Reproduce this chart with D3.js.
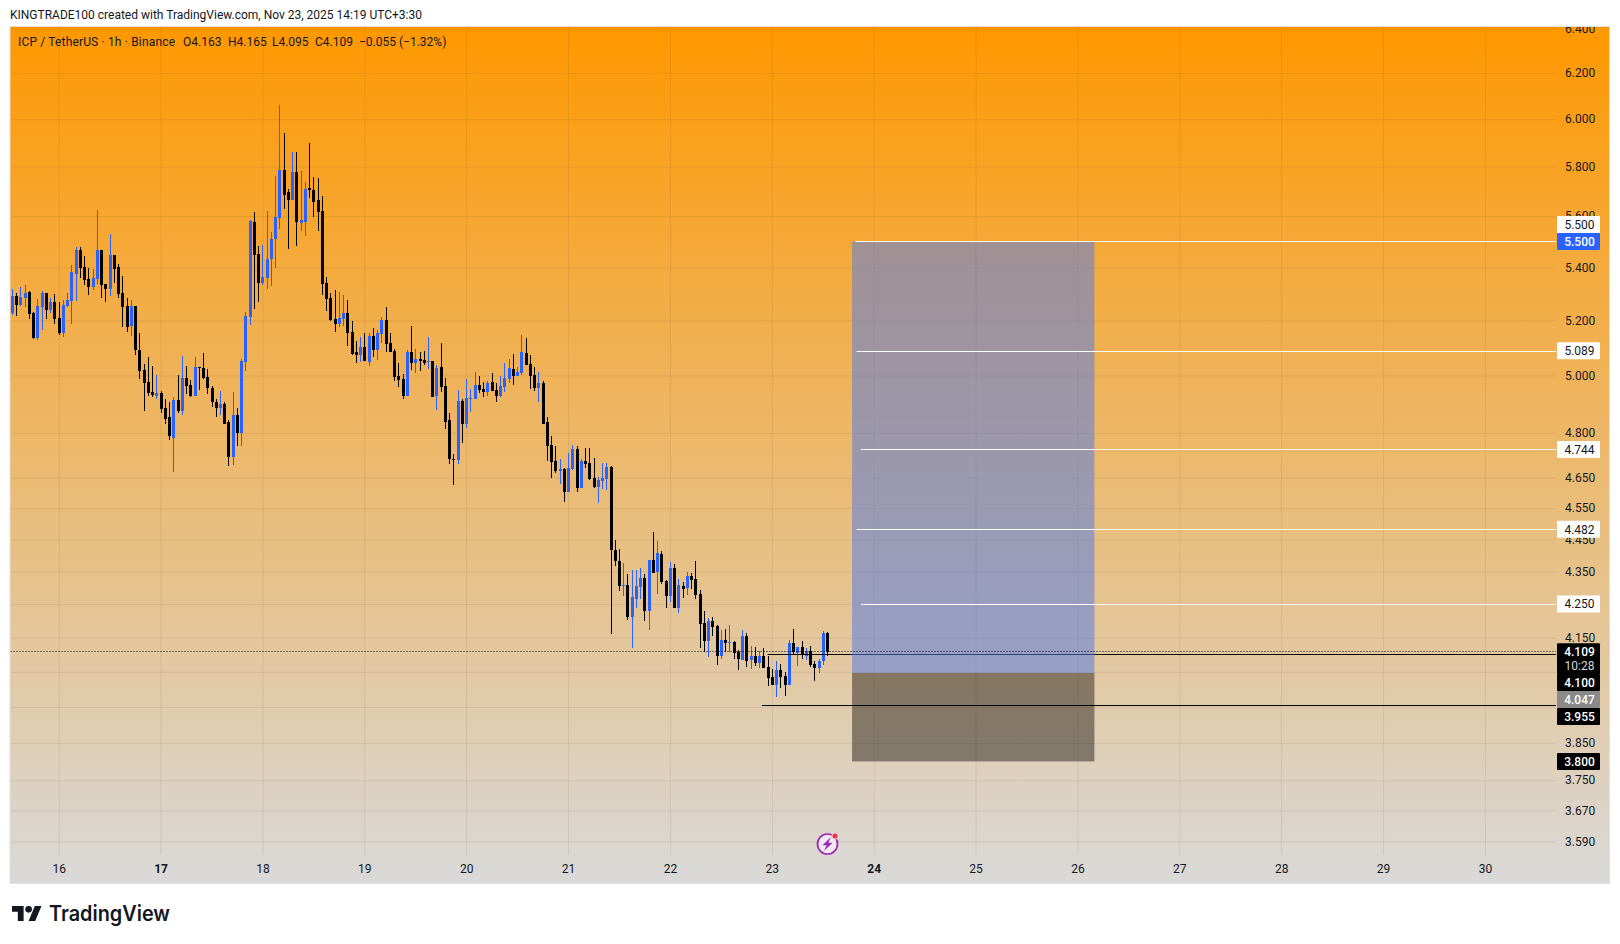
<!DOCTYPE html>
<html><head><meta charset="utf-8">
<script src="https://cdn.jsdelivr.net/npm/d3@7/dist/d3.min.js"></script>
<style>html,body{margin:0;padding:0;background:#fff}svg{display:block}text{font-family:Roboto,sans-serif}</style>
</head><body><svg id="c" width="1620" height="944"></svg>
<script>
const opens=[
5.228,5.292,5.258,5.284,5.307,5.228,5.136,5.250,5.303,5.239,
5.269,5.209,5.154,5.254,5.273,5.375,5.467,5.401,5.356,5.326,
5.356,5.467,5.337,5.318,5.448,5.401,5.303,5.254,5.179,5.254,
5.092,5.019,4.977,4.943,4.929,4.939,4.887,4.853,4.784,4.915,
4.877,4.991,4.967,4.929,5.030,5.027,4.994,4.956,4.908,4.887,
4.898,4.836,4.720,4.860,4.801,5.048,5.212,5.577,5.452,5.341,
5.360,5.432,5.510,5.592,5.785,5.695,5.666,5.777,5.573,5.577,
5.715,5.707,5.666,5.621,5.341,5.283,5.204,5.186,5.204,5.226,
5.157,5.084,5.073,5.102,5.048,5.142,5.092,5.149,5.2,5.117,
5.088,4.998,4.987,4.929,5.084,5.045,5.059,5.055,5.048,5.052,
4.929,5.030,4.963,4.843,4.713,4.709,4.911,4.832,4.918,4.918,
4.967,4.953,4.942,4.977,4.949,4.929,4.960,4.987,5.023,4.998,
5.008,5.081,5.041,5.001,4.956,4.974,4.836,4.760,4.706,4.672,
4.678,4.603,4.678,4.747,4.616,4.706,4.699,4.648,4.619,4.638,
4.645,4.685,4.417,4.382,4.305,4.308,4.212,4.266,4.302,4.329,
4.230,4.385,4.347,4.404,4.320,4.275,4.360,4.239,4.305,4.299,
4.335,4.326,4.281,4.194,4.140,4.200,4.184,4.097,4.142,4.134,
4.137,4.108,4.085,4.154,4.085,4.097,4.077,4.097,4.065,4.036,
4.013,4.054,4.039,4.013,4.134,4.105,4.122,4.097,4.111,4.074,
4.062,4.080,4.163];
const highs=[
5.318,5.302,5.326,5.333,5.311,5.231,5.280,5.311,5.303,5.284,
5.299,5.269,5.277,5.303,5.409,5.479,5.479,5.444,5.397,5.394,
5.625,5.467,5.337,5.530,5.448,5.413,5.367,5.284,5.277,5.254,
5.154,5.041,5.067,5.034,5.001,4.946,4.918,4.905,4.925,5.001,
5.070,5.034,4.984,5.067,5.030,5.081,5.023,4.963,4.918,4.946,
4.905,4.845,4.943,4.887,5.059,5.231,5.584,5.616,5.483,5.487,
5.621,5.538,5.764,6.062,5.939,5.711,5.860,5.860,5.781,5.736,
5.897,5.760,5.752,5.682,5.364,5.302,5.313,5.306,5.295,5.276,
5.196,5.124,5.139,5.153,5.153,5.171,5.164,5.211,5.249,5.153,
5.095,5.045,5.005,5.092,5.178,5.095,5.084,5.088,5.139,5.052,
5.037,5.117,4.991,4.870,4.730,4.949,4.918,4.987,4.953,5.012,
4.998,4.977,4.980,5.008,4.974,4.998,5.045,5.059,5.077,5.030,
5.146,5.135,5.073,5.030,5.012,4.980,4.856,4.788,4.757,4.713,
4.682,4.733,4.760,4.757,4.713,4.750,4.750,4.716,4.651,4.699,
4.699,4.69,4.449,4.420,4.375,4.341,4.353,4.353,4.360,4.341,
4.385,4.474,4.446,4.414,4.323,4.379,4.372,4.326,4.317,4.347,
4.344,4.382,4.293,4.230,4.209,4.212,4.187,4.172,4.175,4.187,
4.140,4.114,4.172,4.163,4.125,4.122,4.111,4.119,4.097,4.057,
4.080,4.074,4.051,4.142,4.175,4.122,4.140,4.119,4.125,4.082,
4.088,4.169,4.165];
const lows=[
5.220,5.216,5.254,5.250,5.205,5.132,5.128,5.165,5.205,5.228,
5.187,5.147,5.139,5.250,5.187,5.273,5.360,5.333,5.296,5.314,
5.337,5.284,5.269,5.292,5.341,5.284,5.176,5.158,5.143,5.074,
4.987,4.874,4.929,4.925,4.918,4.867,4.832,4.775,4.670,4.870,
4.860,4.936,4.925,4.929,4.949,4.987,4.936,4.891,4.856,4.860,
4.829,4.687,4.693,4.754,4.754,5.016,5.182,5.243,5.269,5.333,
5.318,5.330,5.397,5.549,5.629,5.471,5.666,5.483,5.541,5.522,
5.674,5.596,5.541,5.296,5.235,5.198,5.157,5.175,5.178,5.106,
5.073,5.045,5.048,5.052,5.034,5.066,5.055,5.117,5.084,5.084,
4.980,4.960,4.918,4.929,5.019,5.008,5.016,5.037,5.023,4.925,
4.880,4.942,4.815,4.696,4.625,4.696,4.767,4.818,4.873,4.918,
4.939,4.925,4.929,4.946,4.908,4.925,4.942,4.974,4.967,4.998,
5.001,5.037,4.953,4.946,4.908,4.832,4.706,4.648,4.665,4.629,
4.570,4.603,4.675,4.603,4.616,4.682,4.641,4.616,4.568,4.612,
4.609,4.160,4.367,4.290,4.275,4.203,4.120,4.239,4.266,4.200,
4.172,4.344,4.281,4.311,4.239,4.257,4.239,4.224,4.269,4.278,
4.296,4.266,4.120,4.108,4.094,4.154,4.071,4.086,4.107,4.108,
4.088,4.054,4.085,4.065,4.057,4.068,4.062,4.060,4.010,4.013,
3.978,4.004,3.981,4.013,4.100,4.068,4.088,4.085,4.065,4.023,
4.047,4.071,4.095];
const closes=[
5.292,5.258,5.288,5.303,5.224,5.136,5.254,5.303,5.239,5.269,
5.205,5.154,5.258,5.277,5.382,5.467,5.397,5.352,5.326,5.360,
5.467,5.333,5.318,5.448,5.394,5.299,5.250,5.176,5.254,5.092,
5.016,4.974,4.939,4.932,4.939,4.884,4.849,4.788,4.915,4.877,
4.991,4.963,4.929,5.030,5.027,4.991,4.956,4.905,4.887,4.898,
4.832,4.720,4.860,4.801,5.052,5.216,5.581,5.448,5.341,5.364,
5.432,5.510,5.596,5.785,5.686,5.666,5.777,5.577,5.584,5.711,
5.707,5.658,5.616,5.337,5.280,5.2,5.186,5.208,5.226,5.153,
5.077,5.073,5.102,5.052,5.142,5.092,5.153,5.2,5.113,5.084,
4.994,4.984,4.929,5.084,5.045,5.059,5.052,5.045,5.052,4.925,
5.027,4.960,4.839,4.712,4.709,4.911,4.832,4.922,4.922,4.967,
4.949,4.942,4.974,4.946,4.929,4.963,4.991,5.027,4.998,5.012,
5.084,5.037,4.998,4.956,4.974,4.832,4.757,4.702,4.672,4.678,
4.603,4.682,4.747,4.616,4.706,4.696,4.645,4.619,4.641,4.648,
4.685,4.415,4.382,4.305,4.308,4.212,4.272,4.305,4.329,4.230,
4.385,4.344,4.407,4.317,4.275,4.360,4.239,4.308,4.296,4.335,
4.323,4.278,4.190,4.140,4.200,4.181,4.097,4.142,4.134,4.137,
4.105,4.088,4.154,4.082,4.097,4.077,4.097,4.062,4.033,4.013,
4.054,4.036,4.013,4.134,4.108,4.122,4.102,4.111,4.071,4.062,
4.082,4.163,4.109];

const gridPrices=[6.4,6.2,6.0,5.8,5.6,5.4,5.2,5.0,4.8,4.65,4.55,4.45,4.35,4.25,4.15,4.05,3.95,3.85,3.75,3.67,3.59];
const labelPrices=[6.4,6.2,6.0,5.8,5.6,5.4,5.2,5.0,4.8,4.65,4.55,4.45,4.35,4.15,3.85,3.75,3.67,3.59];
const dayLabels=[16,17,18,19,20,21,22,23,24,25,26,27,28,29,30];
const boldDays=[17,24];
const firstDayBar=11, barsPerDay=24;

const targetPrices=[5.5,5.089,4.744,4.482,4.25];
const targetStartBars=[198.7,199,200,199,200];
const lastPrice=4.109, markPrice=4.1, lowMark=3.955;
const markStartBar=178, lowMarkStartBar=176.7;
const entryPrice=4.047, stopPrice=3.8, takePrice=5.5;
const toolStartBar=197.9, toolEndBar=255;

const headerText="KINGTRADE100 created with TradingView.com, Nov 23, 2025 14:19 UTC+3:30";
const legendTitle="ICP / TetherUS · 1h · Binance";
const legendValues=["O4.163","H4.165","L4.095","C4.109","−0.055 (−1.32%)"];
const legendValueX=[183,228,272,315,359];

const badges=[
 {t:"5.500",p:5.5,dy:-17,fill:"#fff",col:"#131722"},
 {t:"5.500",p:5.5,dy:0,fill:"#2962ff",col:"#fff"},
 {t:"5.089",p:5.089,dy:0,fill:"#fff",col:"#131722"},
 {t:"4.744",p:4.744,dy:0,fill:"#fff",col:"#131722"},
 {t:"4.482",p:4.482,dy:0,fill:"#fff",col:"#131722"},
 {t:"4.250",p:4.25,dy:0,fill:"#fff",col:"#131722"},
 {t:"3.800",p:3.8,dy:0,fill:"#000",col:"#fff"}
];

const L=10.5,R=1609,T=27,B=883,PR=1556,PB=855;
const svg=d3.select("#c");
const x=d3.scaleLinear().domain([0,192]).range([12,827]);
const y=d3.scaleLog().domain([3.59,6.2]).range([841.4,73.0]);
const snap=v=>Math.round(y(v)-0.1)+0.5;

const defs=svg.append("defs");
const grad=defs.append("linearGradient").attr("id","bg").attr("x1",0).attr("x2",0).attr("y1",0).attr("y2",1);
grad.append("stop").attr("offset",0).attr("stop-color","#ff9800");
grad.append("stop").attr("offset",1).attr("stop-color","#d9d9d9");
defs.append("clipPath").attr("id","pane").append("rect").attr("x",L).attr("y",T).attr("width",R-L).attr("height",B-T);

svg.append("rect").attr("x",L-0.5).attr("y",T-0.5).attr("width",R-L+1).attr("height",B-T+1).attr("fill","url(#bg)").attr("stroke","#e0e0e0");

const root=svg.append("g").attr("clip-path","url(#pane)");

const dayBars=dayLabels.map((d,i)=>firstDayBar+i*barsPerDay);
const gridX=root.append("g").attr("transform",`translate(0,${PB})`)
 .call(d3.axisBottom(x).tickValues(dayBars).tickSize(-(PB-T)).tickFormat(""));
gridX.select(".domain").remove();
gridX.selectAll("line").attr("stroke","rgba(90,70,40,0.10)");
const gridY=root.append("g").attr("transform",`translate(${PR},0)`)
 .call(d3.axisLeft(y).tickValues(gridPrices).tickSize(PR-L).tickFormat(""));
gridY.select(".domain").remove();
gridY.selectAll("line").attr("stroke","rgba(90,70,40,0.10)");

// candles
const idx=d3.range(opens.length);
const colour=i=>closes[i]>=opens[i]?"#2962ff":"#000";
const cg=root.append("g").attr("shape-rendering","crispEdges");
cg.selectAll("line").data(idx).join("line")
 .attr("x1",i=>Math.round(x(i))+0.5).attr("x2",i=>Math.round(x(i))+0.5)
 .attr("y1",i=>y(highs[i])).attr("y2",i=>y(lows[i])).attr("stroke",colour).attr("stroke-width",1);
cg.selectAll("rect").data(idx).join("rect")
 .attr("x",i=>Math.round(x(i))-1).attr("width",3)
 .attr("y",i=>y(Math.max(opens[i],closes[i])))
 .attr("height",i=>Math.max(1,Math.abs(y(opens[i])-y(closes[i]))))
 .attr("fill",colour);

// the 4.100 line sits under the translucent zones
root.append("line").attr("x1",x(markStartBar)).attr("x2",PR).attr("y1",snap(markPrice)).attr("y2",snap(markPrice)).attr("stroke","#000");

// position tool zones
const zx0=x(toolStartBar), zw=x(toolEndBar)-x(toolStartBar);
root.append("rect").attr("x",zx0).attr("width",zw).attr("y",y(takePrice)).attr("height",y(entryPrice)-y(takePrice)).attr("fill","rgba(90,125,225,0.55)");
root.append("rect").attr("x",zx0).attr("width",zw).attr("y",y(entryPrice)).attr("height",y(stopPrice)-y(entryPrice)).attr("fill","rgba(40,35,30,0.5)");

// level lines
const lg=root.append("g");
lg.selectAll(".t").data(targetPrices).join("line").attr("class","t")
 .attr("x1",(d,i)=>x(targetStartBars[i])).attr("x2",PR).attr("y1",d=>snap(d)).attr("y2",d=>snap(d))
 .attr("stroke","#fff").attr("stroke-width",1);
lg.append("line").attr("x1",x(lowMarkStartBar)).attr("x2",PR).attr("y1",snap(lowMark)).attr("y2",snap(lowMark)).attr("stroke","#000");
lg.append("line").attr("x1",L).attr("x2",PR).attr("y1",snap(lastPrice)).attr("y2",snap(lastPrice))
 .attr("stroke","#000").attr("stroke-width",1).attr("stroke-dasharray","1 2");

// price axis
const py=root.append("g").attr("transform","translate(1565,0)")
 .call(d3.axisRight(y).tickValues(labelPrices).tickSize(0).tickPadding(0).tickFormat(d3.format(".3f")));
py.select(".domain").remove();
py.selectAll("text").attr("fill","#131722").attr("font-size",12).style("font-family","Roboto,sans-serif");

// time axis
const px=root.append("g").attr("transform",`translate(0,864.5)`)
 .call(d3.axisBottom(x).tickValues(dayBars).tickSize(0).tickPadding(0).tickFormat((d,i)=>dayLabels[i]));
px.select(".domain").remove();
px.selectAll("text").attr("fill","#131722").attr("font-size",12)
 .attr("font-weight",(d,i)=>boldDays.includes(dayLabels[i])?700:400).style("font-family","Roboto,sans-serif");

// badges
const BX=1557,BW=43,BH=17;
const bg=root.append("g");
function badge(cy,fill){
 bg.append("rect").attr("x",BX).attr("y",cy-BH/2).attr("width",BW).attr("height",BH).attr("rx",1).attr("fill",fill);
}
function badgeText(cy,t,col,weight){
 bg.append("text").attr("x",BX+BW/2+1).attr("y",cy+4.2).attr("text-anchor","middle").attr("font-size",12).attr("font-weight",weight||400).attr("fill",col).text(t);
}
badges.forEach(b=>{badge(y(b.p)+b.dy,b.fill);badgeText(y(b.p)+b.dy,b.t,b.col,b.fill==="#fff"?400:500);});
// stacked badges below the last price
const stackY=[651.7,666,682.5,699.5,716.5];
const stackText=["4.109","10:28","4.100","4.047","3.955"];
const stackFill=["#000","#000","#000","#8a8a8a","#000"];
const stackCol=["#fff","#d6d6d6","#fff","#fff","#fff"];
stackY.forEach((cy,i)=>badge(cy,stackFill[i]));
stackY.forEach((cy,i)=>badgeText(cy,stackText[i],stackCol[i],i===1?400:500));

// lightning icon
const ic=svg.append("g").attr("transform","translate(827.5,844)");
ic.append("circle").attr("r",10).attr("fill","#f3e9f5").attr("stroke","#9c27b0").attr("stroke-width",1.7);
ic.append("path").attr("d","M3.5,-7 L-5,1.2 L-0.8,1.2 L-3.5,7 L5,-1.2 L0.8,-1.2 Z").attr("fill","#9c27b0");
ic.append("circle").attr("cx",7.5).attr("cy",-8).attr("r",3.2).attr("fill","#f23645").attr("stroke","#f3e9f5").attr("stroke-width",1);

// header / legend
svg.append("text").attr("x",10).attr("y",19).attr("font-size",12).attr("fill","#131722").text(headerText);
svg.append("text").attr("x",18).attr("y",46).attr("font-size",12).attr("fill","#131722").attr("textLength",157).attr("lengthAdjust","spacing").text(legendTitle);
svg.selectAll(".lv").data(legendValues).join("text").attr("class","lv").attr("x",(d,i)=>legendValueX[i]).attr("y",46).attr("font-size",12).attr("fill","#131722").text(d=>d);

// logo
const lgo=svg.append("g").attr("transform","translate(12,902.7) scale(0.83)").attr("fill","#131722");
lgo.append("path").attr("d","M14 22H7V11H0V4h14v18zM28 22h-8l7.5-18h8L28 22z");
lgo.append("circle").attr("cx",20).attr("cy",8).attr("r",4);
svg.append("text").attr("x",49).attr("y",921).attr("font-size",21).attr("font-weight",600).attr("fill","#131722").attr("textLength",121).attr("lengthAdjust","spacingAndGlyphs").style("font-family","Inter").text("TradingView");
</script></body></html>
